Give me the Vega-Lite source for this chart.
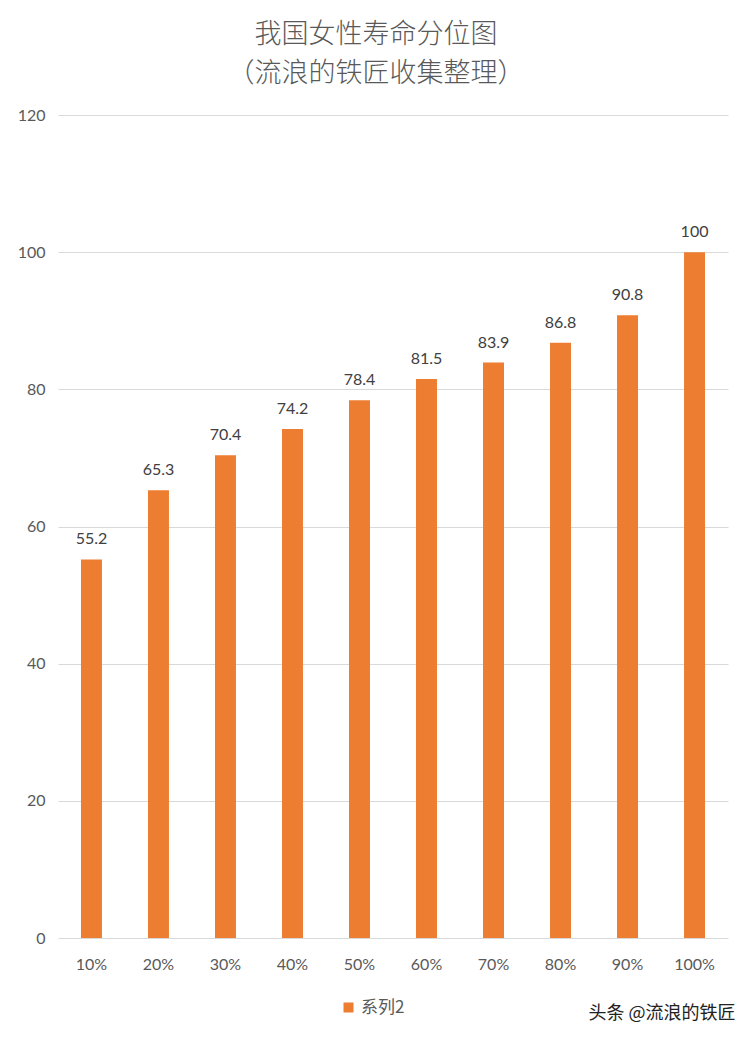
{
  "$schema": "https://vega.github.io/schema/vega-lite/v6.json",
  "width": 670,
  "height": 823,
  "autosize": {"type": "none"},
  "padding": {"left": 58, "top": 115, "right": 24, "bottom": 100},
  "background": "white",
  "config": {"view": {"stroke": null}, "font": "Lato"},
  "title": {
    "text": ["我国女性寿命分位图", "（流浪的铁匠收集整理）"],
    "font": "Noto Sans CJK SC",
    "fontSize": 27,
    "fontWeight": 300,
    "color": "#595959",
    "lineHeight": 39.5,
    "anchor": "middle",
    "dx": -17,
    "offset": 19
  },
  "data": {
    "values": [
      {"pct": "10%", "value": 55.2, "series": "系列2"},
      {"pct": "20%", "value": 65.3, "series": "系列2"},
      {"pct": "30%", "value": 70.4, "series": "系列2"},
      {"pct": "40%", "value": 74.2, "series": "系列2"},
      {"pct": "50%", "value": 78.4, "series": "系列2"},
      {"pct": "60%", "value": 81.5, "series": "系列2"},
      {"pct": "70%", "value": 83.9, "series": "系列2"},
      {"pct": "80%", "value": 86.8, "series": "系列2"},
      {"pct": "90%", "value": 90.8, "series": "系列2"},
      {"pct": "100%", "value": 100, "series": "系列2"}
    ]
  },
  "encoding": {
    "x": {
      "field": "pct",
      "type": "ordinal",
      "sort": null,
      "scale": {"paddingInner": 0.687, "paddingOuter": 0.343},
      "axis": {
        "labelAngle": 0,
        "ticks": false,
        "domain": false,
        "labelPadding": 18,
        "labelFontSize": 16,
        "labelColor": "#595959",
        "title": "头条 @流浪的铁匠",
        "titleFont": "Noto Sans CJK SC",
        "titleFontSize": 18,
        "titleFontWeight": 400,
        "titleColor": "#222222",
        "titleAnchor": "end",
        "titleX": 677,
        "titleAlign": "right",
        "titlePadding": 32
      }
    },
    "y": {
      "field": "value",
      "type": "quantitative",
      "scale": {"domain": [0, 120]},
      "axis": {
        "values": [0, 20, 40, 60, 80, 100, 120],
        "domain": false,
        "ticks": false,
        "grid": true,
        "gridColor": "#d9d9d9",
        "gridWidth": 1,
        "labelPadding": 13,
        "labelFontSize": 16,
        "labelColor": "#595959",
        "title": null
      }
    }
  },
  "layer": [
    {
      "mark": {"type": "bar"},
      "encoding": {
        "color": {
          "field": "series",
          "type": "nominal",
          "scale": {"range": ["#ED7D31"]},
          "legend": {
            "orient": "none",
            "legendX": 282,
            "legendY": 884,
            "title": null,
            "symbolType": "square",
            "symbolSize": 100,
            "symbolStrokeWidth": 0,
            "labelFont": "Noto Sans CJK SC",
            "labelFontSize": 17,
            "labelColor": "#595959"
          }
        }
      }
    },
    {
      "mark": {"type": "text", "baseline": "bottom", "dy": -12, "fontSize": 16, "color": "#404040"},
      "encoding": {"text": {"field": "value", "type": "quantitative"}}
    }
  ]
}
